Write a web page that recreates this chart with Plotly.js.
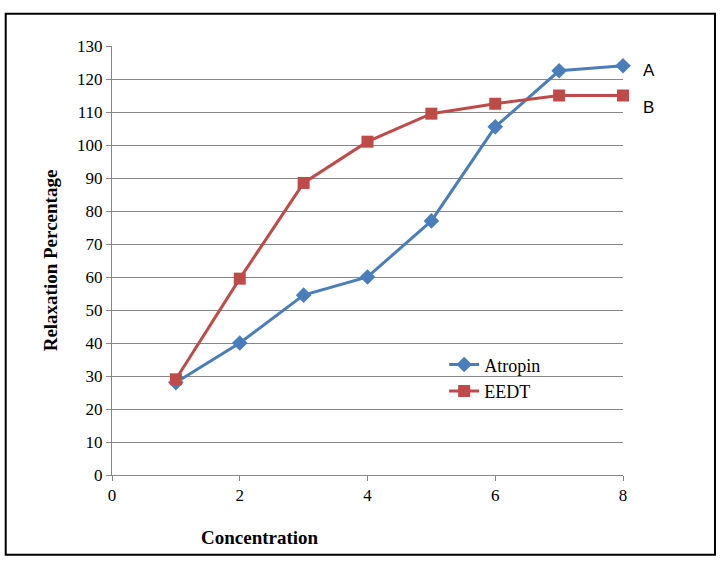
<!DOCTYPE html>
<html><head><script src="https://cdn.plot.ly/plotly-3.0.1.min.js"></script>
<style>body{margin:0}#c{width:720px;height:570px}</style></head>
<body><div id="c"></div><script>
const conc=[1,2,3,4,5,6,7,8];
const atropin=[28,40,54.5,60,77,105.5,122.5,124];
const eedt=[29,59.5,88.5,101,109.5,112.5,115,115];
const serif="Liberation Serif, Times New Roman, serif";
Plotly.newPlot('c',[
{x:conc,y:atropin,name:'Atropin',mode:'lines+markers',line:{color:'#4a7ebb',width:3},marker:{symbol:'diamond',size:12,color:'#4a7ebb'},cliponaxis:false},
{x:conc,y:eedt,name:'EEDT',mode:'lines+markers',line:{color:'#be4b48',width:3},marker:{symbol:'square',size:12,color:'#be4b48'},cliponaxis:false}
],{
width:720,height:570,margin:{l:112,r:97,t:46,b:95},
paper_bgcolor:'white',plot_bgcolor:'white',showlegend:true,
font:{family:serif,size:17,color:'#000'},
xaxis:{range:[0,8],dtick:2,showgrid:false,zeroline:false,showline:true,linecolor:'#868686',ticks:'outside',ticklen:5,tickcolor:'#868686'},
yaxis:{range:[0,130],dtick:10,showgrid:true,gridcolor:'#868686',zeroline:false,showline:true,linecolor:'#868686',ticks:'outside',ticklen:5,tickcolor:'#868686',
 title:{text:'<b>Relaxation Percentage</b>',font:{size:19},standoff:14}},
legend:{x:0.65,y:0.3,xanchor:'left',yanchor:'top',bgcolor:'rgba(0,0,0,0)',font:{size:18}},
annotations:[
{x:(260-112)/511,y:-0.145,xref:'paper',yref:'paper',text:'<b>Concentration</b>',showarrow:false,font:{size:19},xanchor:'center',yanchor:'middle'},
{x:1.035,y:122.7,xref:'paper',yref:'y',text:'A',showarrow:false,xanchor:'left',yanchor:'middle',font:{family:'Liberation Sans, Arial',size:17}},
{x:1.035,y:111.5,xref:'paper',yref:'y',text:'B',showarrow:false,xanchor:'left',yanchor:'middle',font:{family:'Liberation Sans, Arial',size:17}}
],
shapes:[{type:'rect',xref:'paper',yref:'paper',x0:-0.208,x1:1.18,y0:-0.186,y1:1.075,line:{color:'#000',width:2}}]
},{displayModeBar:false});
</script></body></html>
